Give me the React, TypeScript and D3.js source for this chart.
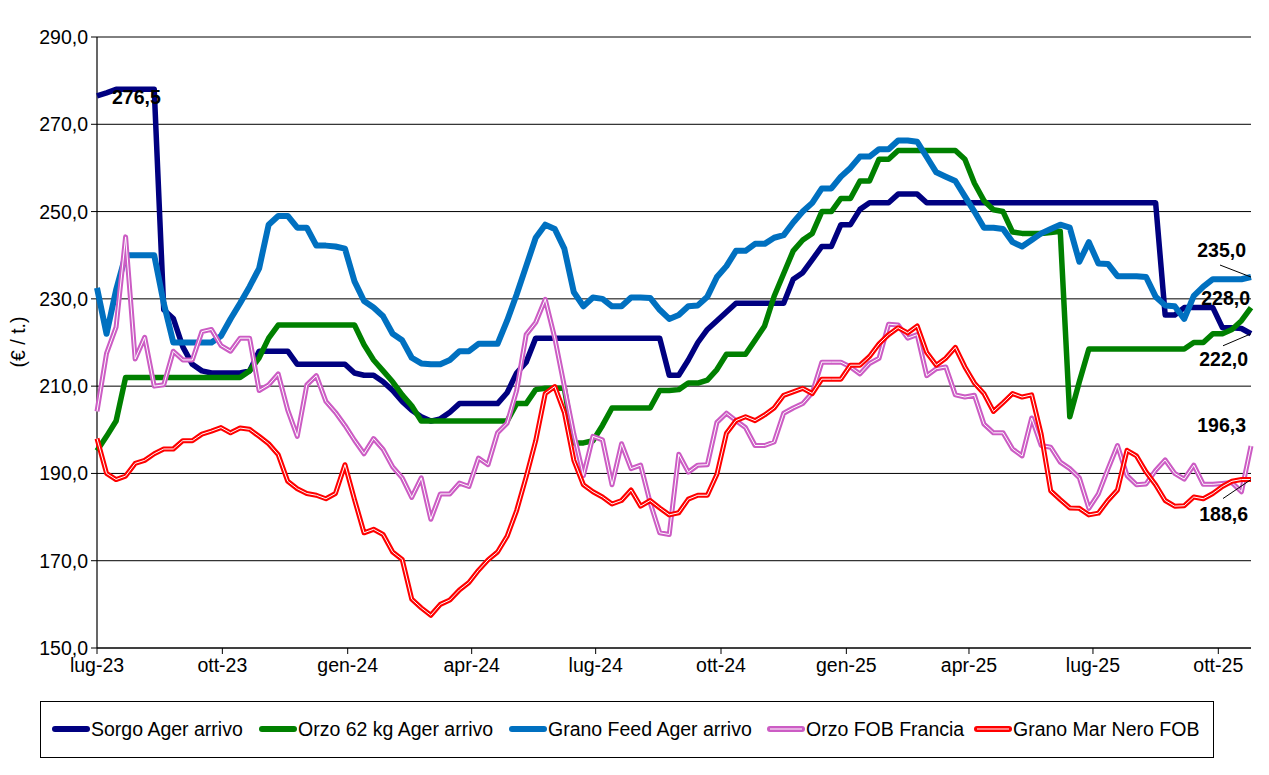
import React from 'react';
import * as d3 from 'd3';

// weekly prices, €/t, first week = 1 Jul 2023
const sorgo = [
  276.5, 277.2, 278, 278, 278, 278, 278, 227.5, 225.5, 219,
  215, 213.5, 213, 213, 213, 213, 213.5, 218, 218, 218,
  218, 215, 215, 215, 215, 215, 215, 213, 212.5, 212.5,
  211, 209, 206.5, 204.5, 203, 202, 202.5, 204, 206, 206,
  206, 206, 206, 208.5, 213, 215.5, 221, 221, 221, 221,
  221, 221, 221, 221, 221, 221, 221, 221, 221, 221,
  212.5, 212.5, 216, 220, 223, 225, 227, 229, 229, 229,
  229, 229, 229, 234.5, 236, 239, 242, 242, 247, 247,
  250.5, 252, 252, 252, 254, 254, 254, 252, 252, 252,
  252, 252, 252, 252, 252, 252, 252, 252, 252, 252,
  252, 252, 252, 252, 252, 252, 252, 252, 252, 252,
  252, 252, 226.3, 226.3, 228, 228, 228, 228, 223.4, 223.4,
  223.2, 222,
];

const orzo62 = [
  195.2, 198.5, 202, 212, 212, 212, 212, 212, 212, 212,
  212, 212, 212, 212, 212, 212, 213.5, 216.5, 221, 224,
  224, 224, 224, 224, 224, 224, 224, 224, 219.5, 216,
  213.5, 211, 208, 205.5, 202, 202, 202, 202, 202, 202,
  202, 202, 202, 202, 206, 206, 209.2, 209.5, 209.5, 209.5,
  197, 197, 197.5, 201, 205, 205, 205, 205, 205, 209,
  209, 209.2, 210.7, 210.7, 211.4, 213.8, 217.3, 217.3, 217.3, 220.5,
  223.8, 230.6, 235.8, 241, 243.5, 245, 250, 250, 253, 253,
  257, 257, 262, 262, 264, 264, 264, 264, 264, 264,
  264, 262, 256.5, 252.5, 250.4, 250, 245.3, 245, 245, 245,
  245.2, 245.5, 203, 211, 218.5, 218.5, 218.5, 218.5, 218.5, 218.5,
  218.5, 218.5, 218.5, 218.5, 218.5, 220, 220, 222, 222, 223,
  225, 228,
];

const granoFeed = [
  232.5, 222, 232, 240, 240, 240, 240, 229, 220, 220,
  220, 220, 220, 221.5, 225.4, 229, 232.8, 237, 247, 249,
  249, 246.3, 246.3, 242.2, 242.2, 242, 241.5, 234, 229.5, 228,
  226, 222, 220.5, 216.5, 215.2, 215, 215, 216, 218, 218,
  219.7, 219.7, 219.7, 225, 231, 237.5, 244, 247, 246, 241.5,
  231.5, 228.3, 230.3, 230, 228.3, 228.3, 230.3, 230.3, 230.2, 227.5,
  225.4, 226.3, 228.3, 228.5, 230.5, 235, 237.5, 241, 241, 242.6,
  242.6, 244, 244.6, 247.5, 250, 252, 255.3, 255.3, 258, 260,
  262.6, 262.6, 264.3, 264.3, 266.3, 266.3, 266, 262.5, 259, 258,
  257, 253.5, 250, 246.3, 246.3, 246, 243, 242, 243.5, 245,
  246, 247, 246.3, 238.5, 243, 238.1, 238, 235.2, 235.2, 235.2,
  235, 230.5, 228.5, 228.3, 225.4, 230.7, 232.8, 234.5, 234.5, 234.5,
  234.5, 235,
];

const orzoFob = [
  204.2, 217.5, 223.5, 244.2, 216.2, 221.2, 210, 210.3, 218, 216,
  216, 222.5, 223, 219.3, 218, 221, 221, 209, 210.3, 212.8,
  204.5, 198.5, 210.3, 212.4, 206.5, 204, 201, 197.6, 194.5, 198,
  195.5, 191.5, 189, 184.5, 189, 179.5, 185.3, 185.3, 187.8, 187,
  193.5, 192, 199.3, 201.5, 209, 221.8, 224.6, 229.9, 221, 210,
  199, 189.5, 198.5, 197.7, 187.4, 196.8, 191.1, 191.9, 183.3, 176.4,
  176, 194.4, 190.3, 191.9, 192, 201.7, 203.8, 202.1, 200.5, 196.4,
  196.4, 197.2, 203.8, 205, 206, 208.5, 215.5, 215.5, 215.5, 214.4,
  212.8, 215.2, 216.4, 224.2, 224, 221, 221.8, 212.4, 214, 214.4,
  208, 207.5, 207.9, 201.3, 199.3, 199.3, 195.6, 194, 202.7, 196.4,
  196, 192.6, 191.1, 189, 182, 185.3, 191, 196.4, 189.5, 187.4,
  187.6, 190.7, 193.1, 190, 188.7, 191.9, 187.5, 187.5, 187.7, 187.9,
  185.8, 196.3,
];

const granoMarNero = [
  198, 190, 188.6, 189.4, 192.3, 193, 194.5, 195.6, 195.6, 197.5,
  197.5, 199, 199.7, 200.5, 199.3, 200.4, 200.1, 198.5, 196.8, 194.3,
  188.2, 186.5, 185.4, 185, 184.2, 185.4, 192, 184, 176.4, 177.2,
  176, 172, 170.3, 161.2, 159.2, 157.5, 160, 161, 163.3, 165,
  167.8, 170.2, 172, 175.6, 181.5, 189.2, 197.5, 208.3, 209.9, 204,
  193, 187.4, 185.8, 184.6, 183, 183.8, 186.2, 182.5, 183.8, 182.1,
  180.5, 181, 184.1, 185, 185, 189.8, 199.2, 202.1, 203, 202.1,
  203.4, 205, 207.9, 208.7, 209.5, 208.3, 211.6, 211.6, 211.6, 214.8,
  214.8, 216.8, 219.7, 221.8, 223.4, 222.2, 223.8, 217.7, 214.8, 216.4,
  218.9, 214.4, 210.7, 208.3, 204.2, 206.2, 208.3, 207.5, 208, 199,
  186, 184, 182.1, 182, 180.5, 180.9, 183.8, 186.2, 195.3, 194,
  190.3, 187.4, 183.8, 182.5, 182.6, 184.6, 184.2, 185.4, 187, 188.2,
  188.6, 188.6,
];

const seriesNames = ['Sorgo Ager arrivo', 'Orzo 62 kg Ager arrivo', 'Grano Feed Ager arrivo', 'Orzo FOB Francia', 'Grano Mar Nero FOB'];
const xTickLabels = ['lug-23', 'ott-23', 'gen-24', 'apr-24', 'lug-24', 'ott-24', 'gen-25', 'apr-25', 'lug-25', 'ott-25'];
const yTicks = [150, 170, 190, 210, 230, 250, 270, 290];

const startDate = Date.UTC(2023, 6, 1);
const weeks = sorgo.map((_, i) => new Date(startDate + i * 7 * 86400000));

const W = 1269;
const H = 775;
const FONT = '"Liberation Sans", Arial, sans-serif';

const x = d3.scaleUtc().domain([weeks[0], weeks[weeks.length - 1]]).range([97, 1251]);
const y = d3.scaleLinear().domain([150, 290]).range([648, 37]);
const fmt = (v: number) => v.toFixed(1).replace('.', ',');

const series = [
  { name: seriesNames[0], values: sorgo, color: '#000080', width: 5.5, inner: false },
  { name: seriesNames[1], values: orzo62, color: '#008000', width: 5.5, inner: false },
  { name: seriesNames[2], values: granoFeed, color: '#0070C0', width: 6, inner: false },
  { name: seriesNames[3], values: orzoFob, color: '#CC5CC4', width: 5, inner: true },
  { name: seriesNames[4], values: granoMarNero, color: '#FF0000', width: 5, inner: true },
];

const legendX = [52, 259, 509, 767, 974];

export default function App() {
  const line = d3.line<number>()
    .x((_, i) => x(weeks[i]))
    .y(d => y(d));

  const xTicks = x.ticks(d3.utcMonth.every(3)!).filter(d => d >= weeks[0]);
  const last = sorgo.length - 1;
  const xEnd = x(weeks[last]);

  return (
    <svg width={W} height={H} style={{ position: 'absolute', left: 0, top: 0, background: '#fff' }} fontFamily={FONT}>
      {/* grid */}
      {yTicks.map(t => (
        <g key={t}>
          <line x1={97} x2={1251} y1={y(t)} y2={y(t)} stroke="#000" strokeWidth={1} />
          <line x1={91} x2={97} y1={y(t)} y2={y(t)} stroke="#000" strokeWidth={1} />
          <text x={88} y={y(t) + 7} textAnchor="end" fontSize={19.5}>{fmt(t)}</text>
        </g>
      ))}
      <line x1={97} x2={97} y1={37} y2={648} stroke="#000" strokeWidth={1.2} />
      <line x1={97} x2={1251} y1={648} y2={648} stroke="#000" strokeWidth={1.2} />
      {xTicks.map((d, i) => (
        <g key={i}>
          <line x1={x(d)} x2={x(d)} y1={648} y2={654} stroke="#000" strokeWidth={1} />
          <text x={x(d)} y={672} textAnchor="middle" fontSize={19.5}>{xTickLabels[i]}</text>
        </g>
      ))}
      <text transform="translate(25,342) rotate(-90)" textAnchor="middle" fontSize={19.5}>(€ / t.)</text>

      {/* series */}
      {series.map(s => (
        <g key={s.name}>
          <path d={line(s.values)!} fill="none" stroke={s.color} strokeWidth={s.width} strokeLinejoin="round" />
          {s.inner && <path d={line(s.values)!} fill="none" stroke="#fff" strokeWidth={1} strokeLinejoin="round" />}
        </g>
      ))}

      {/* value labels */}
      <g fontSize={19.5} fontWeight="bold">
        <text x={x(weeks[0]) + 15} y={y(sorgo[0]) + 8}>{fmt(sorgo[0])}</text>
        <text x={1246} y={y(granoFeed[last]) - 20} textAnchor="end">{fmt(granoFeed[last])}</text>
        <text x={1250} y={y(orzo62[last]) - 3} textAnchor="end">{fmt(orzo62[last])}</text>
        <text x={1248} y={y(sorgo[last]) + 32} textAnchor="end">{fmt(sorgo[last])}</text>
        <text x={1246} y={y(orzoFob[last]) - 14} textAnchor="end">{fmt(orzoFob[last])}</text>
        <text x={1248} y={y(granoMarNero[last]) + 41} textAnchor="end">{fmt(granoMarNero[last])}</text>
      </g>
      <g stroke="#000" strokeWidth={1}>
        <line x1={1220} y1={y(granoFeed[last]) - 12} x2={xEnd} y2={y(granoFeed[last])} />
        <line x1={1223} y1={y(sorgo[last]) + 12} x2={xEnd} y2={y(sorgo[last])} />
        <line x1={1223} y1={y(granoMarNero[last]) + 19} x2={xEnd} y2={y(granoMarNero[last])} />
      </g>

      {/* legend */}
      <rect x={40.5} y={701.5} width={1173} height={56} fill="#fff" stroke="#000" strokeWidth={1} />
      {series.map((s, i) => (
        <g key={s.name} transform={`translate(${legendX[i]},729)`}>
          <line x1={3} x2={35} y1={0} y2={0} stroke={s.color} strokeWidth={6} strokeLinecap="round" />
          {s.inner && <line x1={3} x2={35} y1={0} y2={0} stroke="#fff" strokeWidth={1} />}
          <text x={39} y={7} fontSize={19.5}>{s.name}</text>
        </g>
      ))}
    </svg>
  );
}
